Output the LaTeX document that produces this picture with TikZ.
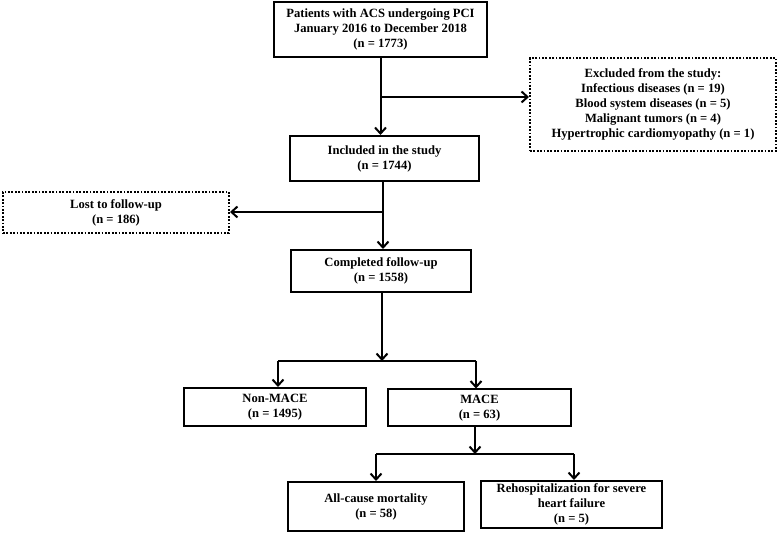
\documentclass[tikz,border=0pt]{standalone}
\usepackage{fontspec}
\setmainfont{Liberation Serif}
\usetikzlibrary{arrows.meta}

\begin{document}
\begin{tikzpicture}[x=1pt,y=-1pt,
 box/.style={draw,line width=2pt,align=center,inner sep=2pt,font=\fontsize{12.6}{15}\selectfont\bfseries},
 dotbox/.style={box,dash pattern=on 1.8pt off 1.6pt},
 arr/.style={line width=2pt,-{Straight Barb[length=6pt,width=11pt]}},
 lin/.style={line width=2pt}]
\useasboundingbox (0,0) rectangle (780,534);

\node[box,minimum width=213pt,minimum height=55pt] (top) at (380.5,29.5) {Patients with ACS undergoing PCI\\January 2016 to December 2018\\(n = 1773)};
\node[dotbox,minimum width=246pt,minimum height=93pt] (excl) at (653,104.5) {Excluded from the study:\\Infectious diseases (n = 19)\\Blood system diseases (n = 5)\\Malignant tumors (n = 4)\\Hypertrophic cardiomyopathy (n = 1)};
\node[box,minimum width=189pt,minimum height=45pt] (incl) at (384.5,158.5) {Included in the study\\(n = 1744)};
\node[dotbox,minimum width=226pt,minimum height=41pt] (lost) at (116,212.5) {Lost to follow-up\\(n = 186)};
\node[box,minimum width=180pt,minimum height=42pt] (comp) at (381,271) {Completed follow-up\\(n = 1558)};
\node[box,minimum width=182pt,minimum height=38pt] (nonmace) at (275,407) {Non-MACE\\(n = 1495)};
\node[box,minimum width=183pt,minimum height=37pt] (mace) at (479.5,408) {MACE\\(n = 63)};
\node[box,minimum width=176pt,minimum height=49pt] (allc) at (376,506.5) {All-cause mortality\\(n = 58)};
\node[box,minimum width=181pt,minimum height=47pt] (rehosp) at (571.5,504.5) {Rehospitalization for severe\\heart failure\\(n = 5)};

\coordinate (exbr) at (381,97);
\coordinate (lostbr) at (383,212);
\coordinate (mbr) at (382,361);
\coordinate (mbrl) at (278,361);
\coordinate (mbrr) at (476,361);
\coordinate (ebr) at (475,454);
\coordinate (ebrl) at (376,454);
\coordinate (ebrr) at (574,454);

\draw[arr] (top.south) -- (top.south |- incl.north);
\draw[arr] (exbr) -- (exbr -| excl.west);
\draw[arr] (lostbr |- incl.south) -- (lostbr |- comp.north);
\draw[arr] (lostbr) -- (lostbr -| lost.east);
\draw[arr] (mbr |- comp.south) -- (mbr);
\draw[lin] (mbrl) -- (mbrr);
\draw[arr] (mbrl) -- (mbrl |- nonmace.north);
\draw[arr] (mbrr) -- (mbrr |- mace.north);
\draw[arr] (ebr |- mace.south) -- (ebr);
\draw[lin] (ebrl) -- (ebrr);
\draw[arr] (ebrl) -- (ebrl |- allc.north);
\draw[arr] (ebrr) -- (ebrr |- rehosp.north);
\end{tikzpicture}
\end{document}
